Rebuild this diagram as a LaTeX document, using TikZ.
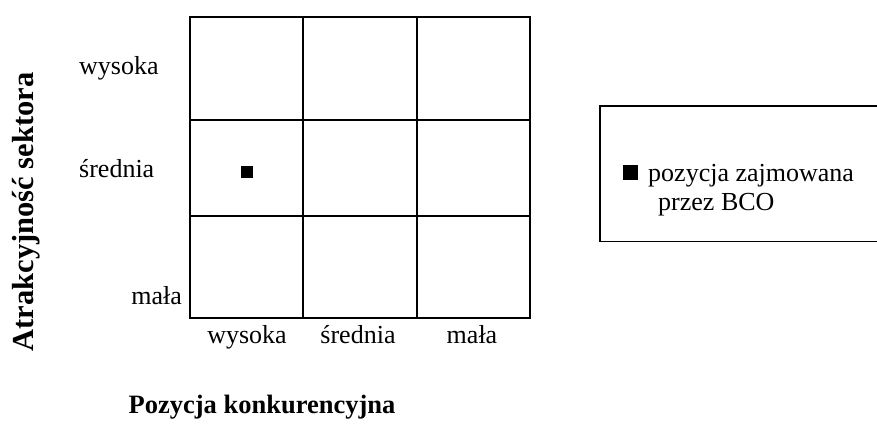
\documentclass[tikz,border=0pt]{standalone}
\usepackage{fontspec}
\setmainfont{Liberation Serif}
\begin{document}
\begin{tikzpicture}[x=1pt,y=-1pt,
  lbl/.style={inner sep=0pt,font=\fontsize{26}{29}\selectfont},
  ttl/.style={inner sep=0pt,font=\fontsize{26.5}{30}\selectfont\bfseries},
  outer/.style={line width=2.8pt},
  inner/.style={line width=2.3pt}]
\useasboundingbox (0,0) rectangle (877,435);

% portfolio grid (3 x 3)
\coordinate (g00) at (190,17);
\coordinate (g33) at (530,318);
\draw[inner] (303,17) -- (303,318) (417,17) -- (417,318)
             (190,120) -- (530,120) (190,216) -- (530,216);
\draw[outer] (g00) rectangle (g33);

% position marker
\fill (241,166) rectangle (253,178);

% row labels
\node[lbl,anchor=base west] (r1) at (79,75) {wysoka};
\node[lbl,anchor=base west] (r2) at (79,178) {średnia};
\node[lbl,anchor=base east] (r3) at (182,305) {mała};

% column labels
\node[lbl,anchor=base] (c1) at (247,343) {wysoka};
\node[lbl,anchor=base] (c2) at (358,343) {średnia};
\node[lbl,anchor=base] (c3) at (472,343) {mała};

% axis titles
\node[ttl,rotate=90,font=\fontsize{30.5}{34}\selectfont\bfseries] (ay) at (26,212) {Atrakcyjność sektora};
\node[ttl,anchor=base] (ax) at (262,413) {Pozycja konkurencyjna};

% legend box, open on the right
\draw[line width=1.6pt] (880,106) -- (600,106) -- (600,241.5) -- (880,241.5);
\fill (623,165) rectangle (638,180);
\node[lbl,anchor=base west] (l1) at (648,182) {pozycja zajmowana};
\node[lbl,anchor=base west] (l2) at (658,211) {przez BCO};
\end{tikzpicture}
\end{document}
